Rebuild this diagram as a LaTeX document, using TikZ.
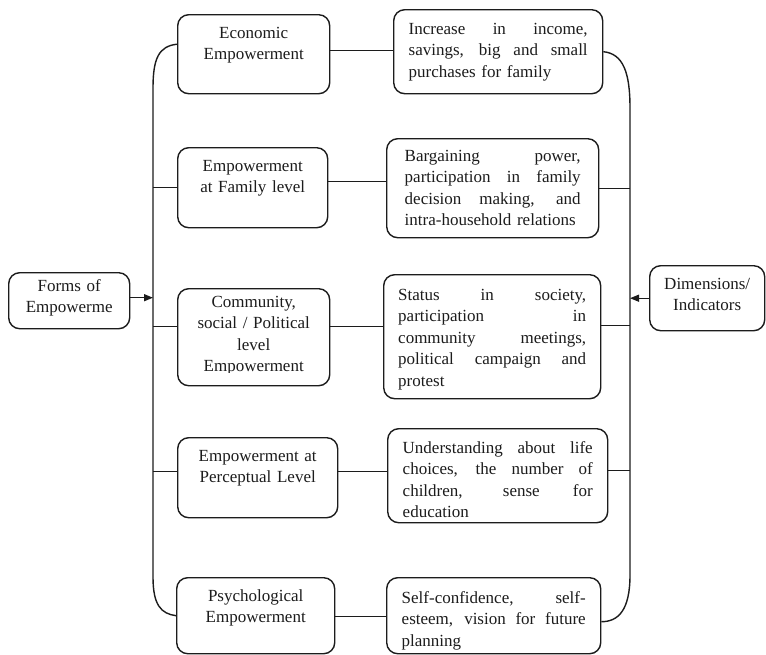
\documentclass[tikz,border=0pt]{standalone}
\usepackage{fontspec}
\setmainfont{Liberation Serif}
\usetikzlibrary{arrows.meta,calc}
\definecolor{ink}{HTML}{1C1C1C}
\newcommand{\jl}[1]{\leavevmode\hbox to \hsize{\spaceskip=0pt\xspaceskip=0pt #1}}
\tikzset{
  box/.style={draw=ink, line width=1.4pt, rounded corners=11pt, anchor=north west, inner sep=0pt},
  lt/.style={inner sep=0pt, anchor=north, align=center, text=ink,
    font=\fontsize{17}{21.5}\selectfont, execute at begin node=\rule{0pt}{13pt}},
  rt/.style={inner sep=0pt, anchor=north, align=left, text=ink,
    font=\fontsize{17}{21.5}\selectfont, execute at begin node=\rule{0pt}{13pt}},
  link/.style={draw=ink, line width=1.4pt},
  arr/.style={link, -{Triangle[length=9pt,width=7pt]}},
}
\begin{document}
\begin{tikzpicture}[x=1pt,y=-1pt]
\useasboundingbox[fill=white] (0,0) rectangle (766,654);
% left column boxes
\node[box, minimum width=152pt, minimum height=79pt] (E) at (177,14) {};
\node[box, minimum width=150pt, minimum height=80pt] (F) at (177,147) {};
\node[box, minimum width=152pt, minimum height=97pt] (C) at (177,288) {};
\node[box, minimum width=160pt, minimum height=80pt] (P) at (177,437) {};
\node[box, minimum width=158pt, minimum height=76pt] (Ps) at (176,577) {};
% right column boxes
\node[box, minimum width=209pt, minimum height=84pt] (I) at (393,9) {};
\node[box, minimum width=212pt, minimum height=99pt] (B) at (386,138) {};
\node[box, minimum width=217pt, minimum height=124pt] (S) at (383,274) {};
\node[box, minimum width=220pt, minimum height=94pt] (U) at (387,428) {};
\node[box, minimum width=214pt, minimum height=76pt] (Se) at (386,577) {};
% side boxes
\node[box, minimum width=121pt, minimum height=56pt] (Fo) at (8,272) {};
\node[box, minimum width=115pt, minimum height=65pt] (Di) at (649,265) {};
% texts
\node[lt, text width=116pt] (Fot) at ($(Fo.north)+(0,6)$) {Forms of\\Empowerme};
\node[lt, text width=110pt] (Dit) at ($(Di.north)+(0,11)$) {Dimensions/\\Indicators};
\node[lt, text width=140pt] (Et) at ($(E.north)+(0,11)$) {Economic\\Empowerment};
\node[lt, text width=140pt] (Ft) at ($(F.north)+(0,11)$) {Empowerment\\at Family level};
\begin{scope}
\clip (170,280) rectangle (340,372);
\node[lt, text width=140pt] (Ct) at ($(C.north)+(0,6)$) {Community,\\social / Political\\level\\Empowerment};
\end{scope}
\node[lt, text width=150pt] (Pt) at ($(P.north)+(0,11)$) {Empowerment at\\Perceptual Level};
\node[lt, text width=150pt] (Pst) at ($(Ps.north)+(0,11)$) {Psychological\\Empowerment};
\node[rt, text width=179pt] (It) at ($(I.north)+(0,12)$) {\jl{Increase in income,}\\\jl{savings, big and small}\\purchases for family};
\node[rt, text width=176pt] (Bt) at ($(B.north)+(0,10)$) {\jl{Bargaining power,}\\\jl{participation in family}\\\jl{decision making, and}\\intra-household relations};
\node[rt, text width=188pt] (St) at ($(S.north)+(0,13)$) {\jl{Status in society,}\\\jl{participation in}\\\jl{community meetings,}\\\jl{political campaign and}\\protest};
\node[rt, text width=190pt] (Ut) at ($(U.north)+(0,12)$) {\jl{Understanding about life}\\\jl{choices, the number of}\\\jl{children, sense for}\\education};
\node[rt, text width=184pt] (Set) at ($(Se.north)+(0,13)$) {\jl{Self-confidence, self-}\\\jl{esteem, vision for future}\\planning};
% spine coordinates
\coordinate (LT) at (153,88);
\coordinate (LB) at (153,577);
\coordinate (RT) at (630,108);
\coordinate (RB) at (630,575);
% left spine
\draw[link] ([yshift=10pt]E.west) .. controls +(-18,2) and +(0,-30) .. (LT) -- (LB)
  .. controls +(0,28) and +(-15,-2) .. (Ps.west);
\draw[link] (F.west) -- (F.west -| LT);
\draw[link] ([yshift=11pt]C.west) -- ([yshift=11pt]C.west -| LT);
\draw[link] ([yshift=6pt]P.west) -- ([yshift=6pt]P.west -| LT);
% right spine
\draw[link] (I.east) .. controls +(20,2) and +(0,-35) .. (RT) -- (RB)
  .. controls +(0,35) and +(17,0) .. ([yshift=-6pt]Se.east);
\draw[link] (B.east) -- (B.east -| RT);
\draw[link] ([yshift=11pt]S.east) -- ([yshift=11pt]S.east -| RT);
\draw[link] ([yshift=5pt]U.east) -- ([yshift=5pt]U.east -| RT);
% links between columns
\draw[link] ([yshift=4pt]E.east) -- ([yshift=4pt]E.east -| I.west);
\draw[link] ([yshift=6pt]F.east) -- ([yshift=6pt]F.east -| B.west);
\draw[link] ([yshift=11pt]C.east) -- ([yshift=11pt]C.east -| S.west);
\draw[link] ([yshift=6pt]P.east) -- ([yshift=6pt]P.east -| U.west);
\draw[link] ([yshift=-1pt]Ps.east) -- ([yshift=-1pt]Ps.east -| Se.west);
% arrows
\draw[arr] ([yshift=3pt]Fo.east) -- ([yshift=3pt]Fo.east -| LT);
\draw[arr] (Di.west) -- (Di.west -| RT);
\end{tikzpicture}
\end{document}
